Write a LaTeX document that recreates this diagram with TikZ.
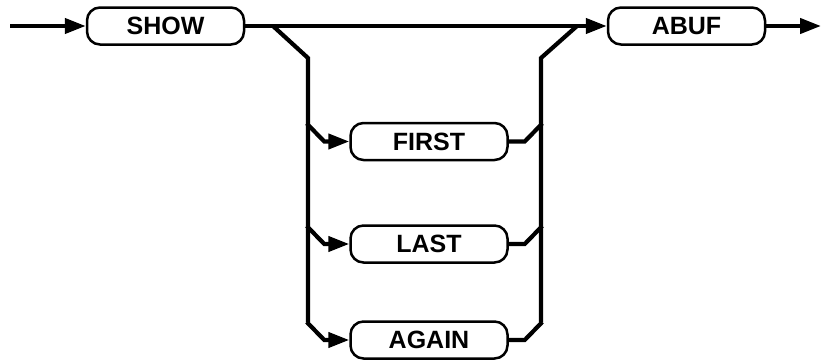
\documentclass[tikz,border=0pt]{standalone}
\usepackage{fontspec}
\setmainfont{Liberation Sans}
\usetikzlibrary{arrows.meta}

\begin{document}
\begin{tikzpicture}[x=1pt,y=-1pt,>={Triangle[length=21pt,width=15pt]},line join=miter]
\tikzset{kwbox/.style={draw,line width=2.5pt,rounded corners=13pt,minimum width=157pt,minimum height=37pt,inner sep=0pt,font=\fontsize{25}{28}\selectfont\bfseries},
  rail/.style={line width=4.2pt}}
\useasboundingbox (0,0) rectangle (823,362);
\node[kwbox] (show) at (165.5,26) {SHOW};
\node[kwbox] (abuf) at (686.5,26) {ABUF};
\node[kwbox] (first) at (429,141.5) {FIRST};
\node[kwbox] (last) at (429,244) {LAST};
\node[kwbox] (again) at (429,340) {AGAIN};
\coordinate (in) at (10,26);
\coordinate (out) at (821,26);
\coordinate (lsplit) at (273,26);
\coordinate (rjoin) at (577,26);
\draw[rail,->] (in) -- (show);
\draw[rail,->] (show) -- (abuf);
\draw[rail,->] (abuf) -- (out);
% left and right rails
\draw[rail] (lsplit) -- (308,58) -- (308,322);
\draw[rail] (541,322) -- (541,58) -- (rjoin);
\foreach \n in {first,last,again}{
  \draw[rail,->] ([xshift=-42.5pt,yshift=18pt]\n.west) -- ([xshift=-25pt]\n.west) -- (\n.west);
  \draw[rail] (\n.east) -- ([xshift=16pt]\n.east) -- ([xshift=33.5pt,yshift=18pt]\n.east);
}
\end{tikzpicture}
\end{document}
